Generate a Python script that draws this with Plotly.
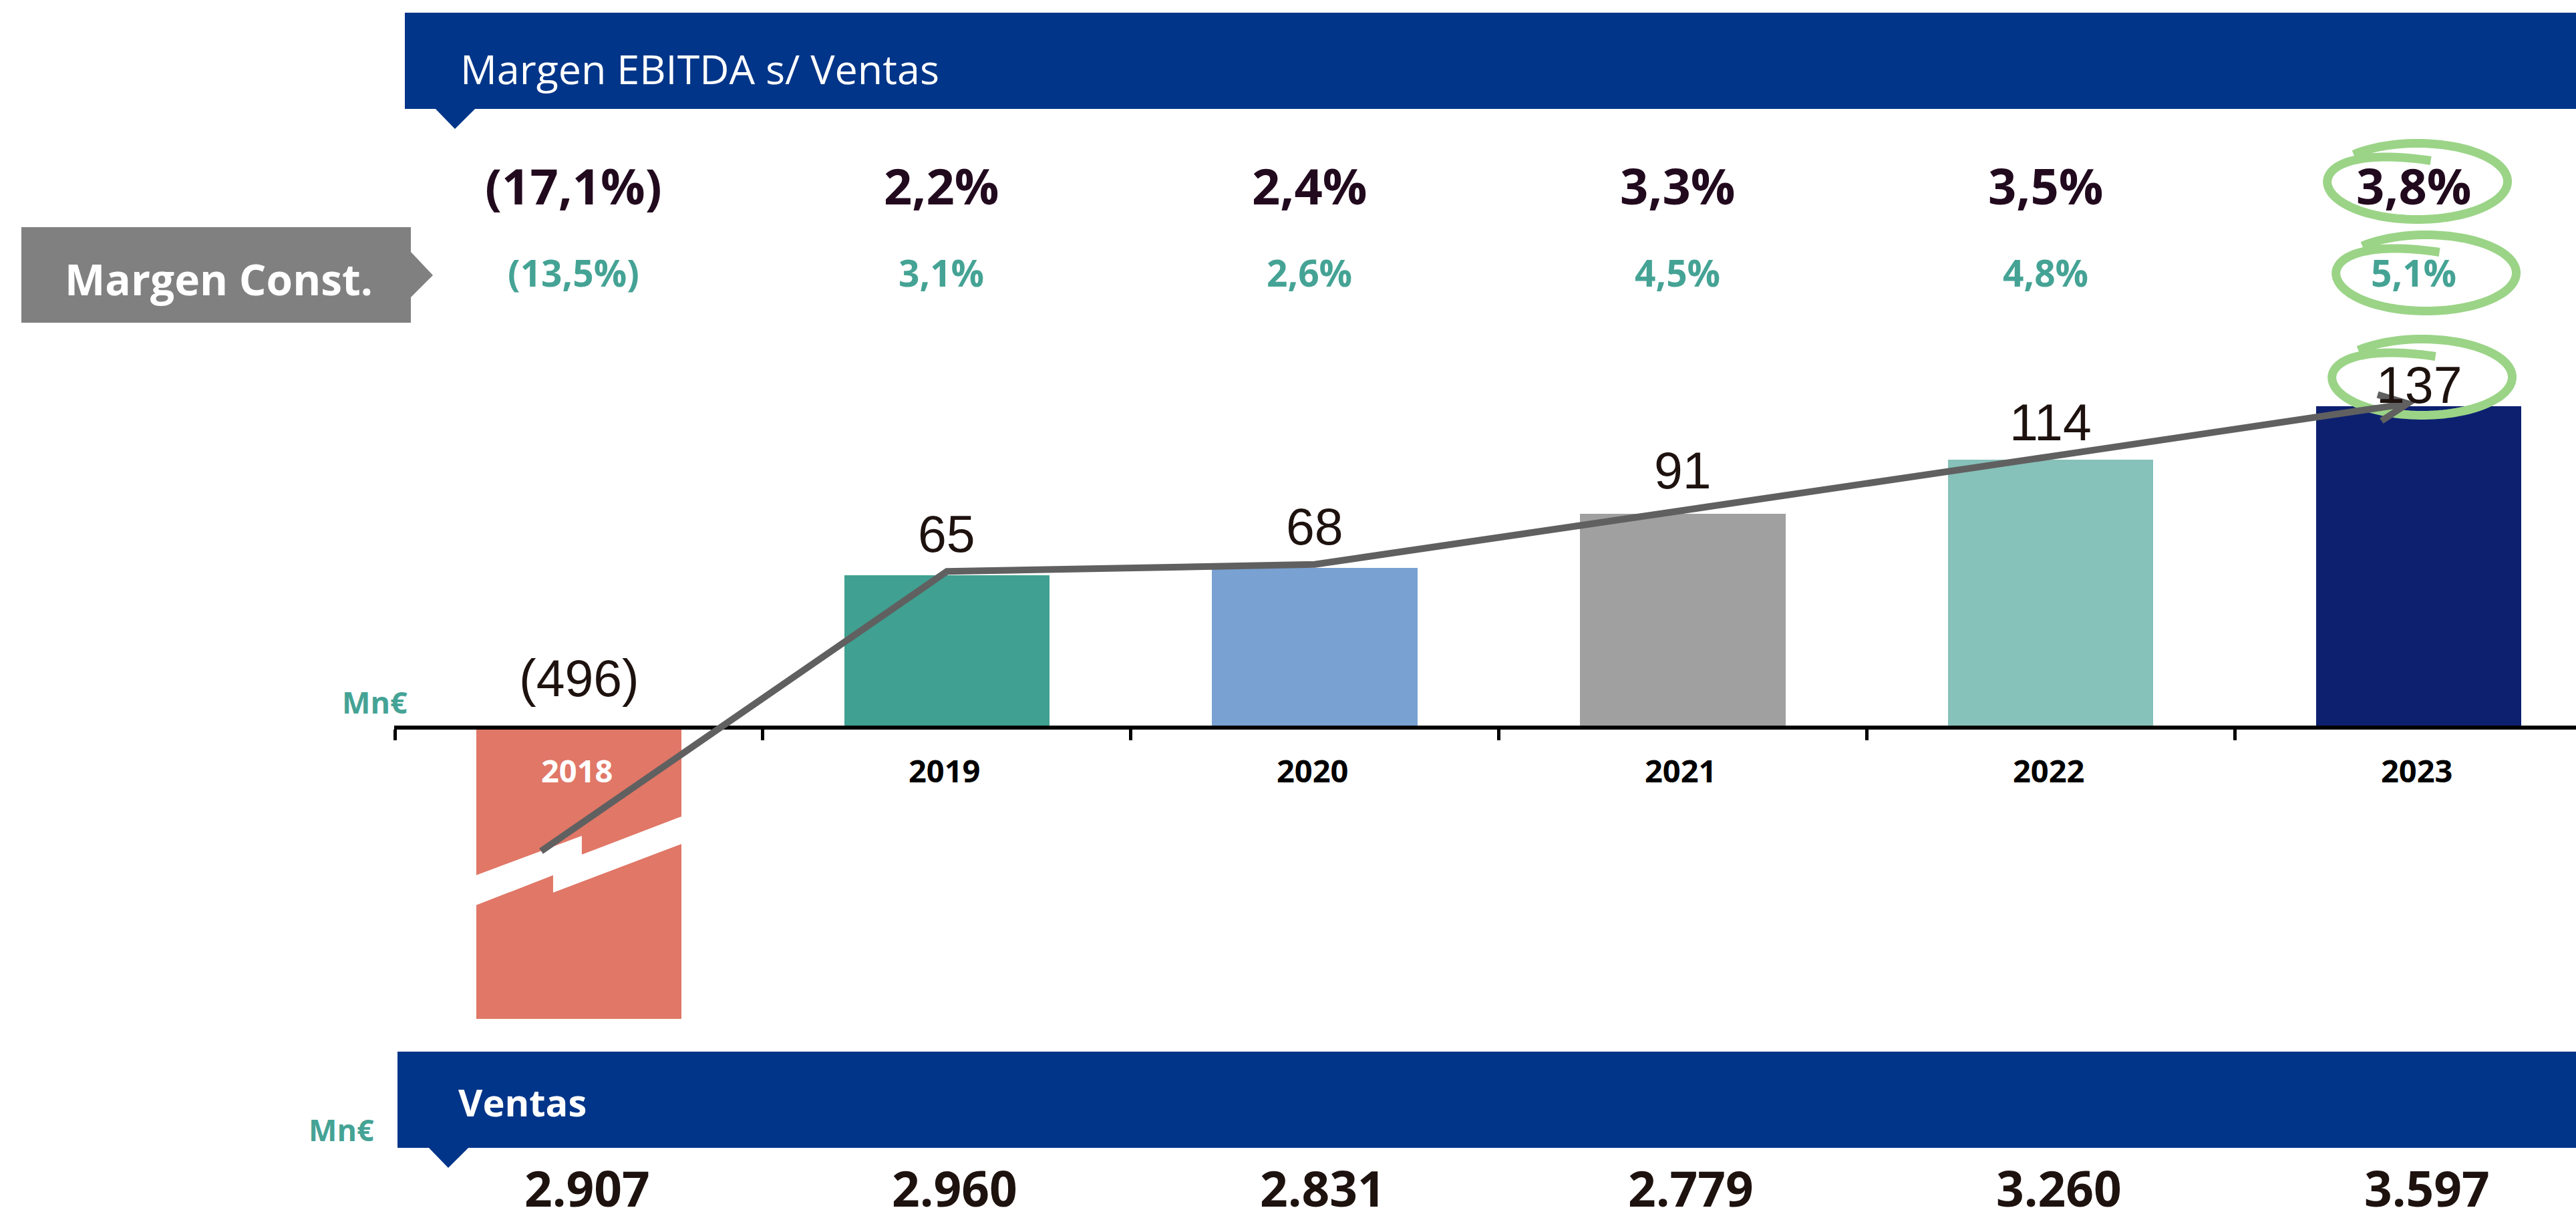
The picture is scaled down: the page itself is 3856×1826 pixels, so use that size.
import numpy as np
import plotly.graph_objects as go

# ---------------- data ----------------
years = ["2018", "2019", "2020", "2021", "2022", "2023"]
ebitda = [-496, 65, 68, 91, 114, 137]
ebitda_labels = ["(496)", "65", "68", "91", "114", "137"]
margen_ebitda = ["(17,1%)", "2,2%", "2,4%", "3,3%", "3,5%", "3,8%"]
margen_const = ["(13,5%)", "3,1%", "2,6%", "4,5%", "4,8%", "5,1%"]
ventas = ["2.907", "2.960", "2.831", "2.779", "3.260", "3.597"]

# ---------------- style / layout constants ----------------
bar_colors = ["#E07767", "#40A091", "#79A1D2", "#A0A0A0", "#86C1BA", "#0D2070"]
BLUE = "#003589"
TEAL = "#45A395"
DARK = "#1E120F"
PURPLE = "#220A1E"
GREEN = "#9BD487"
ARROW = "#606060"

W, H = 3856, 1826
L = 590          # left edge of plot area (px)
CAT = 551        # px per category
ZERO = 1089      # px of value 0
SCALE = 3.514    # px per Mn€
BREAK_FLOOR = -124   # displayed depth of the broken 2018 bar
BAR_W = 0.558

x_range = [-0.502, -0.5 + (W - L) / CAT]
y_range = [-(H - ZERO) / SCALE, ZERO / SCALE]


def px2x(px):
    return -0.5 + (px - L) / CAT


def py2y(py):
    return (ZERO - py) / SCALE


def px2p(px):
    return (px - L) / (W - L)


def py2p(py):
    return 1 - py / H


def path_paper(pts):
    s = "M " + " L ".join(f"{px2p(x):.5f},{py2p(y):.5f}" for x, y in pts) + " Z"
    return s


def path_data(pts, close=False):
    s = "M " + " L ".join(f"{x:.5f},{y:.4f}" for x, y in pts)
    return s + (" Z" if close else "")


xs = list(range(len(years)))
disp = [max(v, BREAK_FLOOR) for v in ebitda]

fig = go.Figure()
fig.add_trace(go.Bar(
    x=xs, y=disp, width=BAR_W,
    marker=dict(color=bar_colors, line=dict(width=0)),
    hoverinfo="skip", showlegend=False,
))

shapes = []

# banners
shapes.append(dict(type="path", xref="paper", yref="paper", layer="above",
                   path=path_paper([(606, 19), (3870, 19), (3870, 163), (711, 163),
                                    (681, 193), (652, 163), (606, 163)]),
                   fillcolor=BLUE, line=dict(width=0)))
shapes.append(dict(type="path", xref="paper", yref="paper", layer="above",
                   path=path_paper([(595, 1574), (3870, 1574), (3870, 1718), (701, 1718),
                                    (671, 1748), (642, 1718), (595, 1718)]),
                   fillcolor=BLUE, line=dict(width=0)))
shapes.append(dict(type="path", xref="paper", yref="paper", layer="above",
                   path=path_paper([(32, 340), (615, 340), (615, 377), (648, 412),
                                    (615, 445), (615, 483), (32, 483)]),
                   fillcolor="#808080", line=dict(width=0)))

# break marker on the 2018 bar (white lightning band)
b0 = xs[0]
band = [(-0.30, -64.1), (0.008, -46.1), (0.008, -54.1), (0.30, -36.6),
        (0.30, -48.3), (-0.07, -70.3), (-0.07, -62.9), (-0.30, -76.9)]
shapes.append(dict(type="path", xref="x", yref="y", layer="above",
                   path=path_data([(b0 + dx, y) for dx, y in band], close=True),
                   fillcolor="white", line=dict(width=0)))


# hand-drawn highlight loops around 2023 figures
def loop(cx, cy, rx=135, ry=57):
    th = np.radians(np.linspace(135, -279, 140))
    pts = []
    for t in th:
        deg = np.degrees(t)
        if deg >= -180:
            f = 1.0
        else:
            f = 1.0 - 0.45 * (-180 - deg) / 99.0
        px = cx + rx * np.cos(t) * (1.0 if deg >= -180 else 1 - 0.05 * (-180 - deg) / 99)
        py = cy - ry * f * np.sin(t)
        pts.append((px2x(px), py2y(py)))
    return path_data(pts)


c5 = L + (xs[5] + 0.5) * CAT
for cx, cy in [(c5 - 2, 271.5), (c5 + 11, 408.5), (c5 + 5, 564.5)]:
    shapes.append(dict(type="path", xref="x", yref="y", layer="above",
                       path=loop(cx, cy), line=dict(color=GREEN, width=13)))

# trend arrow from the break to the 2023 bar
arrow_pts = [(b0 - 0.1025, -52.6)]
for i in range(1, 5):
    arrow_pts.append((xs[i], ebitda[i] + 1.5))
tip = (xs[5] - 0.03, ebitda[5] + 1.0)
arrow_pts.append(tip)
shapes.append(dict(type="path", xref="x", yref="y", layer="above",
                   path=path_data(arrow_pts), line=dict(color=ARROW, width=10)))
# arrow head (open chevron)
tpx = (L + (tip[0] + 0.5) * CAT, ZERO - tip[1] * SCALE)
ppx = (L + (arrow_pts[-2][0] + 0.5) * CAT, ZERO - arrow_pts[-2][1] * SCALE)
ang = np.arctan2(ppx[1] - tpx[1], ppx[0] - tpx[0])
head = []
for d in (np.radians(25), 0, -np.radians(25)):
    if d == 0:
        head.append((tip[0], tip[1]))
    else:
        ex = tpx[0] + 47 * np.cos(ang + d)
        ey = tpx[1] + 47 * np.sin(ang + d)
        head.append((px2x(ex), py2y(ey)))
shapes.append(dict(type="path", xref="x", yref="y", layer="above",
                   path=path_data(head), line=dict(color=ARROW, width=10)))

ann = []


def add_text(text, x, y, xref="x", yref="paper", size=40, color=DARK, family="Open Sans",
             weight="normal", xanchor="center", xshift=0, yshift=0):
    ann.append(dict(text=text, x=x, y=y, xref=xref, yref=yref, showarrow=False,
                    xanchor=xanchor, yanchor="middle", xshift=xshift, yshift=yshift,
                    font=dict(size=size, color=color, family=family, weight=weight)))


add_text("Margen EBITDA s/ Ventas", px2p(687), py2p(103), xref="paper", size=61,
         color="white", xanchor="left", weight=500)
add_text("Ventas", px2p(684), py2p(1649), xref="paper", size=56, color="white",
         xanchor="left", weight="bold")
add_text("Margen Const.", px2p(95), py2p(417), xref="paper", size=64, color="white",
         xanchor="left", weight="bold")
add_text("Mn€", px2p(612), py2p(1050), xref="paper", size=45, color=TEAL,
         xanchor="right", weight="bold")
add_text("Mn€", px2p(562), py2p(1690), xref="paper", size=45, color=TEAL,
         xanchor="right", weight="bold")

label_lift = [84, 62, 62, 65, 56, 32]
for i in xs:
    add_text(margen_ebitda[i], xs[i], py2p(277), size=74, color=PURPLE, weight="bold", xshift=-8)
    add_text(margen_const[i], xs[i], py2p(407), size=55, color=TEAL, weight="bold", xshift=-8)
    add_text(years[i], xs[i], py2p(1153), size=47,
             color="white" if ebitda[i] < 0 else "black", weight="bold", xshift=-3)
    add_text(ventas[i], xs[i], py2p(1777), size=73, color=DARK, weight="bold", xshift=12)
    add_text(ebitda_labels[i], xs[i], max(ebitda[i], 0), yref="y", size=77, color=DARK,
             family="Liberation Sans, Arial", yshift=label_lift[i] - (10 if i == 0 else 0))

fig.update_layout(
    width=W, height=H,
    margin=dict(l=L, r=0, t=0, b=0),
    paper_bgcolor="white", plot_bgcolor="white",
    font=dict(family="Open Sans"),
    showlegend=False,
    bargap=0,
    shapes=shapes,
    annotations=ann,
    xaxis=dict(range=x_range, anchor="free", position=(H - ZERO) / H,
               showline=True, linecolor="black", linewidth=6,
               tickmode="array", tickvals=[i - 0.5 for i in xs],
               ticktext=[""] * len(xs), ticks="outside", ticklen=16, tickwidth=5,
               tickcolor="black", showgrid=False, zeroline=False, fixedrange=True),
    yaxis=dict(range=y_range, visible=False, showgrid=False, zeroline=False,
               fixedrange=True),
)

fig.write_html(
    "out.html",
    config={"displayModeBar": False},
    post_script="document.body.style.margin='0px';document.body.style.overflow='hidden';",
)
